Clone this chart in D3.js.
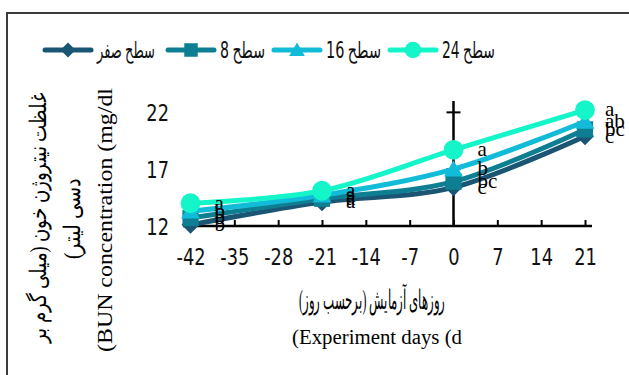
<!DOCTYPE html>
<html>
<head>
<meta charset="utf-8">
<script src="https://cdn.jsdelivr.net/npm/d3@7"></script>
<style>
  html, body { margin: 0; padding: 0; background: #fff; }
  svg { display: block; }
</style>
</head>
<body>
<svg id="chart" width="629" height="375"></svg>
<script>
// ---- data ----
const days = [-42, -21, 0, 21];
const seriesNames = ["سطح صفر", "سطح 8", "سطح 16", "سطح 24"];
const level0  = [12.1, 14.1, 15.4, 19.9];
const level8  = [12.7, 14.4, 15.9, 20.5];
const level16 = [13.3, 14.7, 17.0, 21.2];
const level24 = [14.0, 15.1, 18.7, 22.2];
const letters0  = ["b", "a", "c", "c"];
const letters8  = ["b", "a", "bc", "bc"];
const letters16 = ["b", "a", "b", "ab"];
const letters24 = ["a", "a", "a", "a"];
const xTicks = [-42, -35, -28, -21, -14, -7, 0, 7, 14, 21];
const yTicks = [12, 17, 22];
const yTitle = ["غلظت نیتروژن خون (میلی گرم بر", "دسی لیتر)", "(BUN concentration (mg/dl"];
const xTitle = ["روزهای آزمایش (برحسب روز)", "(Experiment days (d"];

// ---- setup ----
const colors = ["#1b5574", "#0e7f93", "#12bcd9", "#14f5c9"];
const shapes = ["diamond", "square", "triangle", "circle"];
const seriesVals = [level0, level8, level16, level24];
const seriesLetters = [letters0, letters8, letters16, letters24];

const svg = d3.select("#chart");
const x = d3.scaleLinear().domain([-42, 21]).range([190.5, 585]);
const y = d3.scaleLinear().domain([12, 23]).range([226, 101]);

const narrow = "'Liberation Sans Narrow', 'Arial Narrow', 'DejaVu Sans Condensed', sans-serif";
const serif = "'Liberation Serif', 'Times New Roman', 'DejaVu Serif', serif";

// outer border
svg.append("rect").attr("x", 7).attr("y", 13).attr("width", 640).attr("height", 400)
  .attr("fill", "none").attr("stroke", "#3c3c3c").attr("stroke-width", 2);

function symbolPath(shape, s) {
  if (shape === "diamond") return `M0,${-s}L${s},0L0,${s}L${-s},0Z`;
  if (shape === "square") return `M${-s*0.9},${-s*0.9}H${s*0.9}V${s*0.9}H${-s*0.9}Z`;
  if (shape === "triangle") return `M0,${-s}L${s*1.05},${s*0.8}L${-s*1.05},${s*0.8}Z`;
  return d3.arc()({innerRadius: 0, outerRadius: s*1.1, startAngle: 0, endAngle: 2*Math.PI});
}

// x axis (horizontal at y=12)
const xAxis = d3.axisBottom(x).tickValues(xTicks).tickSize(-6).tickSizeOuter(0).tickFormat(d => d);
const gx = svg.append("g").attr("transform", `translate(0,${y(12)})`).call(xAxis);
gx.select(".domain").remove();
gx.append("line").attr("x1", 183).attr("x2", 592).attr("y1", 0).attr("y2", 0)
  .attr("stroke", "#000").attr("stroke-width", 2.5);
gx.selectAll(".tick line").attr("stroke", "#000").attr("stroke-width", 2);
gx.selectAll(".tick text").attr("font-family", narrow).attr("font-size", 22)
  .attr("fill", "#111").attr("y", 0).attr("dy", 0)
  .attr("transform", "translate(0,39) scale(0.9,1.05)");

// y axis (vertical at x=0) with cross ticks; labels at the left
const gy = svg.append("g").attr("transform", `translate(${x(0)},0)`);
gy.append("line").attr("x1", 0).attr("x2", 0).attr("y1", y(12)).attr("y2", y(23))
  .attr("stroke", "#000").attr("stroke-width", 2.5);
gy.selectAll("line.tk").data(yTicks).join("line").attr("class", "tk")
  .attr("x1", -7).attr("x2", 7).attr("y1", d => y(d)).attr("y2", d => y(d))
  .attr("stroke", "#000").attr("stroke-width", 2);
const yAxisLab = d3.axisLeft(y).tickValues(yTicks).tickSize(0).tickFormat(d => d);
const gyl = svg.append("g").attr("transform", `translate(169,0)`).call(yAxisLab);
gyl.select(".domain").remove();
gyl.selectAll(".tick text").attr("font-family", narrow).attr("font-size", 22)
  .attr("fill", "#111").attr("x", 0).attr("dy", "0.35em")
  .attr("transform", "scale(0.9,1.05)");

// series
const line = d3.line().x((d, i) => x(days[i])).y(d => y(d)).curve(d3.curveCardinal.tension(0));
seriesVals.forEach((vals, si) => {
  const g = svg.append("g");
  g.append("path").attr("d", line(vals)).attr("fill", "none")
    .attr("stroke", colors[si]).attr("stroke-width", 5).attr("stroke-linejoin", "round");
  g.selectAll("path.mk").data(vals).join("path").attr("class", "mk")
    .attr("d", symbolPath(shapes[si], 9))
    .attr("transform", (d, i) => `translate(${x(days[i])},${y(d)})`)
    .attr("fill", colors[si]);
});

// data labels
seriesVals.forEach((vals, si) => {
  svg.append("g").selectAll("text").data(vals).join("text")
    .attr("x", (d, i) => x(days[i]) + (i === 3 ? 20 : 24))
    .attr("y", d => y(d))
    .attr("dy", "0.3em")
    .attr("font-family", serif).attr("font-size", 21).attr("fill", "#000")
    .text((d, i) => seriesLetters[si][i]);
});

// legend (right-to-left reading: first word sits on the right)
const legX = [45, 168, 274, 390];
const legTextW = [58, 45, 55, 53];
const legY = 50;
seriesNames.forEach((name, si) => {
  const g = svg.append("g").attr("transform", `translate(${legX[si]},${legY})`);
  g.append("line").attr("x1", 0).attr("x2", 46).attr("y1", 0).attr("y2", 0)
    .attr("stroke", colors[si]).attr("stroke-width", 5).attr("stroke-linecap", "round");
  g.append("path").attr("d", symbolPath(shapes[si], 7.5)).attr("transform", "translate(23,0)")
    .attr("fill", colors[si]);
  const words = name.split(" ").reverse();
  const tg = g.append("g");
  let cx = 0;
  const gap = 5;
  words.forEach((w) => {
    const t = tg.append("text").attr("x", cx).attr("y", 0).attr("dy", "0.36em")
      .attr("font-family", narrow).attr("font-size", 23).attr("fill", "#111").text(w);
    cx += t.node().getComputedTextLength() + gap;
  });
  const natural = cx - gap;
  const s = legTextW[si] / natural;
  tg.attr("transform", `translate(52,0) scale(${s},1)`);
});

// y title
const yCenters = [38, 72, 105];
const yMid = [218, 219, 220];
const yLens = [250, 80, 264];
const ySizes = [23, 23, 20];
yTitle.forEach((t, i) => {
  svg.append("text")
    .attr("transform", `translate(${yCenters[i]},${yMid[i]}) rotate(-90)`)
    .attr("text-anchor", "middle").attr("dy", "0.35em")
    .attr("direction", i < 2 ? "rtl" : "ltr")
    .attr("font-family", serif).attr("font-size", ySizes[i]).attr("fill", "#000")
    .attr("textLength", yLens[i]).attr("lengthAdjust", "spacingAndGlyphs")
    .text(t);
});

// x title
svg.append("text").attr("x", 372).attr("y", 300).attr("dy", "0.35em")
  .attr("text-anchor", "middle").attr("direction", "rtl")
  .attr("font-family", serif).attr("font-size", 27).attr("fill", "#000")
  .attr("textLength", 146).attr("lengthAdjust", "spacingAndGlyphs")
  .text(xTitle[0]);
svg.append("text").attr("x", 377).attr("y", 337).attr("dy", "0.35em")
  .attr("text-anchor", "middle")
  .attr("font-family", serif).attr("font-size", 20).attr("fill", "#000")
  .attr("textLength", 170).attr("lengthAdjust", "spacingAndGlyphs")
  .text(xTitle[1]);
</script>
</body>
</html>
